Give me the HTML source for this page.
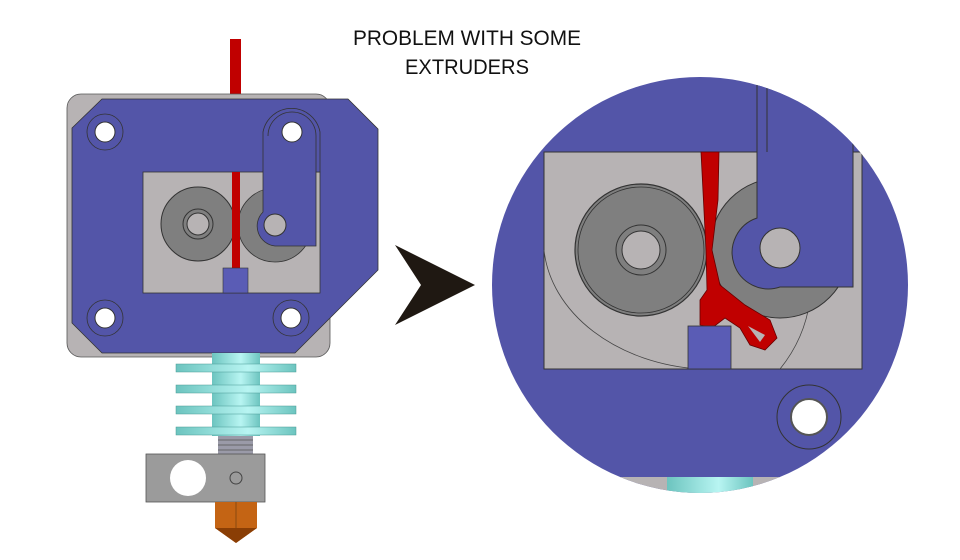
<!DOCTYPE html>
<html><head><style>html,body{margin:0;padding:0;background:#fff}svg{display:block}</style></head>
<body>
<svg width="960" height="560" viewBox="0 0 960 560" xmlns="http://www.w3.org/2000/svg">
<defs>
<clipPath id="cc"><circle cx="700" cy="285" r="208"/></clipPath>
<linearGradient id="teal" x1="0" x2="1" y1="0" y2="0">
<stop offset="0" stop-color="#6cc4bf"/><stop offset="0.6" stop-color="#b8f5f2"/><stop offset="1" stop-color="#6cc4bf"/></linearGradient>
</defs>
<text x="467" y="45" font-family="Liberation Sans, sans-serif" font-size="21" text-anchor="middle" fill="#111" textLength="228" lengthAdjust="spacingAndGlyphs">PROBLEM WITH SOME</text>
<text x="467" y="74" font-family="Liberation Sans, sans-serif" font-size="21" text-anchor="middle" fill="#111" textLength="124" lengthAdjust="spacingAndGlyphs">EXTRUDERS</text>

<rect x="230" y="39" width="11" height="62" fill="#c00000"/>
<rect x="67" y="94" width="263" height="263" rx="14" fill="#b7b3b4" stroke="#555" stroke-width="0.8"/>
<polygon points="72,128 102,99 348,99 378,129 378,270 295,353 102,353 72,323" fill="#5355a8" stroke="#333" stroke-width="0.8"/>
<rect x="143" y="172" width="177" height="121" fill="#b7b3b4" stroke="#333" stroke-width="0.8"/>
<circle cx="198" cy="224" r="37" fill="#7f7f7f" stroke="#333"/>
<circle cx="198" cy="224" r="15" fill="#7f7f7f" stroke="#333"/>
<circle cx="198" cy="224" r="11" fill="#b7b3b4" stroke="#333"/>
<circle cx="275" cy="225" r="37" fill="#7f7f7f" stroke="#333" stroke-width="0.8"/>
<rect x="232" y="172" width="8" height="96" fill="#c00000"/>
<rect x="223" y="268" width="25" height="25" fill="#5a5cb5" stroke="#333" stroke-width="0.6"/>
<path d="M263,132 A29,29 0 0 1 320,132 L320,172 L316,172 L316,246 L275,246 A20,20 0 0 1 263,212 Z" fill="#5355a8" stroke="#333" stroke-width="0.8"/>
<path d="M268,136 A24,24 0 0 1 316,136 L316,172" fill="none" stroke="#333" stroke-width="0.8"/>
<circle cx="275" cy="225" r="11" fill="#b7b3b4" stroke="#333"/>
<g fill="none" stroke="#333" stroke-width="0.8">
<circle cx="105" cy="132" r="18"/><circle cx="105" cy="318" r="18"/><circle cx="291" cy="318" r="18"/>
</g>
<g fill="#fff" stroke="#333" stroke-width="1">
<circle cx="105" cy="132" r="10"/><circle cx="292" cy="132" r="10"/><circle cx="105" cy="318" r="10"/><circle cx="291" cy="318" r="10"/>
</g>
<rect x="212" y="353" width="48" height="83" fill="url(#teal)"/>
<g fill="url(#teal)" stroke="#4a9a96" stroke-width="0.5">
<rect x="176" y="364" width="120" height="8"/><rect x="176" y="385" width="120" height="8"/>
<rect x="176" y="406" width="120" height="8"/><rect x="176" y="427" width="120" height="8"/>
</g>
<rect x="218" y="436" width="35" height="18" fill="#9a9aa8"/>
<g stroke="#555" stroke-width="0.8"><line x1="218" y1="440" x2="253" y2="440"/><line x1="218" y1="445" x2="253" y2="445"/><line x1="218" y1="450" x2="253" y2="450"/></g>
<rect x="146" y="454" width="119" height="48" fill="#9b9b9b" stroke="#555" stroke-width="0.8"/>
<circle cx="188" cy="478" r="18" fill="#fff"/>
<circle cx="236" cy="478" r="6" fill="none" stroke="#444"/>
<polygon points="215,502 257,502 257,528 236,543 215,528" fill="#c46414"/>
<polygon points="215,528 257,528 236,543" fill="#8a3e05"/>
<line x1="236" y1="502" x2="236" y2="528" stroke="#8a4a10" stroke-width="1"/>

<polygon points="475,285 395,245 421,285 395,325" fill="#1f1812"/>

<g clip-path="url(#cc)">
<rect x="480" y="70" width="440" height="430" fill="#5355a8"/>
<rect x="490" y="477" width="430" height="30" fill="#b7b3b4"/>
<rect x="667" y="477" width="86" height="30" fill="url(#teal)"/>
<rect x="544" y="152" width="318" height="217" fill="#b7b3b4" stroke="#333" stroke-width="1"/>
<g fill="none" stroke="#444" stroke-width="0.8">
<path d="M544,250 A170,130 0 0 0 700,369"/><path d="M780,369 A140,140 0 0 0 810,300"/>
</g>
<circle cx="641" cy="250" r="66" fill="#7f7f7f" stroke="#333" stroke-width="1.2"/>
<circle cx="641" cy="250" r="63" fill="none" stroke="#333" stroke-width="0.8"/>
<circle cx="641" cy="250" r="25" fill="#7f7f7f" stroke="#333"/>
<circle cx="641" cy="250" r="19" fill="#b7b3b4" stroke="#333"/>
<circle cx="780" cy="248" r="70" fill="#7f7f7f" stroke="#333" stroke-width="1"/>
<path d="M701,152 L719,152 L718,200 L712,250 L720,285 L745,305 L770,320 L777,338 L765,350 L750,345 L740,328 L725,318 L712,328 L700,325 L700,300 L707,290 L706,250 Z" fill="#c00000" stroke="#600" stroke-width="0.8"/>
<path d="M748,326 L765,335 L760,342 Z" fill="#b7b3b4"/>
<rect x="688" y="326" width="43" height="43" fill="#5a5cb5" stroke="#333" stroke-width="0.8"/>
<path d="M757,60 L853,60 L853,287 L780,287 A35,35 0 0 1 757,218 Z" fill="#5355a8" stroke="#333" stroke-width="1"/>
<line x1="767" y1="60" x2="767" y2="152" stroke="#333" stroke-width="1"/>
<circle cx="780" cy="248" r="20" fill="#b7b3b4" stroke="#333" stroke-width="1"/>
<circle cx="809" cy="417" r="32" fill="none" stroke="#333" stroke-width="1"/>
<circle cx="809" cy="417" r="18" fill="#fff" stroke="#555" stroke-width="2"/>
</g>
</svg>
</body></html>
